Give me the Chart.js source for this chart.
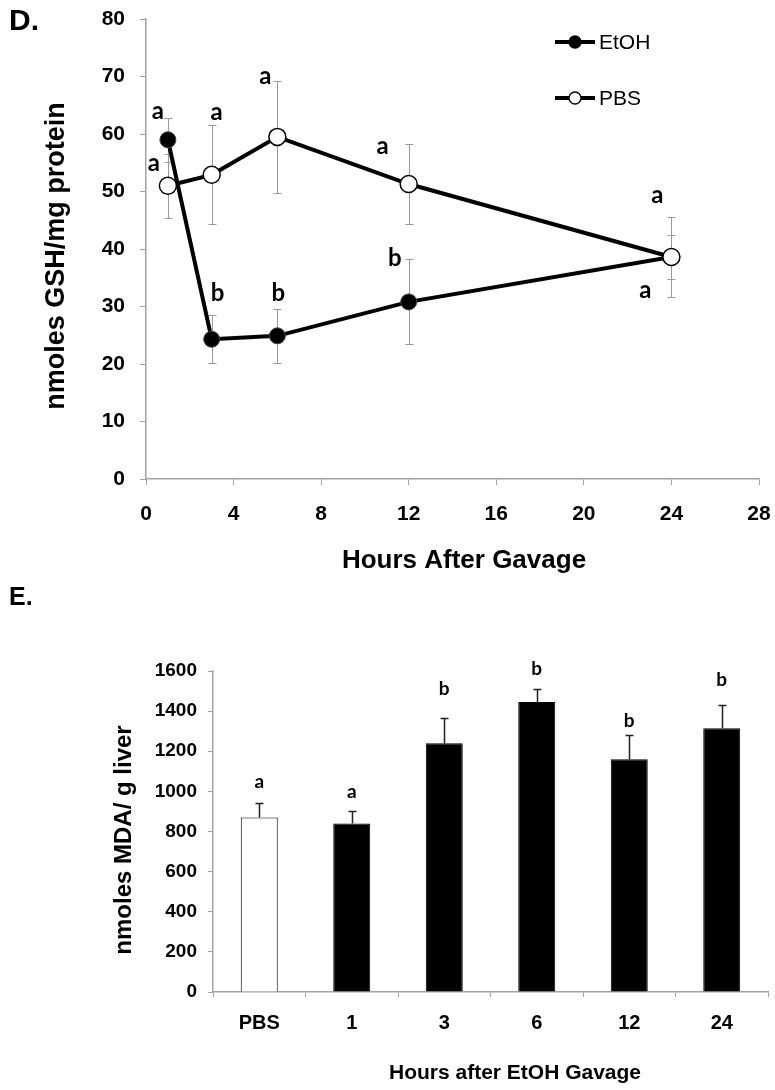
<!DOCTYPE html>
<html><head><meta charset="utf-8">
<script src="https://cdn.jsdelivr.net/npm/chart.js@4/dist/chart.umd.min.js"></script>
<style>
html,body{margin:0;padding:0;background:#fff;}
#wrap{position:relative;width:775px;height:1090px;overflow:hidden;}
#c1wrap{position:absolute;left:0;top:0;width:775px;height:580px;}
#c2wrap{position:absolute;left:0;top:580px;width:775px;height:510px;}
</style></head><body>
<div id="wrap"><div id="c1wrap"><canvas id="c1"></canvas></div><div id="c2wrap"><canvas id="c2"></canvas></div></div>
<script>
// ---------- Panel D data ----------
const hours = [1, 3, 6, 12, 24];
const etohGSH = [59, 24.3, 24.9, 30.8, 38.6];
const etohGSHErr = [3.8, 4.2, 4.7, 7.4, 3.8];
const pbsGSH = [51, 52.9, 59.5, 51.3, 38.6];
const pbsGSHErr = [5.6, 8.6, 9.8, 7.0, 7.0];
const etohGSHLetters = ['a', 'b', 'b', 'b', 'a'];
const pbsGSHLetters = ['a', 'a', 'a', 'a', 'a'];
const gshXTicks = [0, 4, 8, 12, 16, 20, 24, 28];
const gshYTicks = [0, 10, 20, 30, 40, 50, 60, 70, 80];

// ---------- Panel E data ----------
const mdaCategories = ['PBS', '1', '3', '6', '12', '24'];
const mdaValues = [870, 840, 1240, 1445, 1160, 1315];
const mdaErr = [73, 63, 124, 65, 122, 118];
const mdaLetters = ['a', 'a', 'b', 'b', 'b', 'b'];
const mdaYTicks = [0, 200, 400, 600, 800, 1000, 1200, 1400, 1600];

// ---------- layout (pixel offsets for annotation letters) ----------
const etohLetterOffsets = [[-10, -21], [6, -38], [1, -35], [-14, -36], [-26, 41]];
const pbsLetterOffsets = [[-14, -15], [5, -55], [-12, -53], [-26, -30], [-14, -54]];
const mdaLetterGaps = [15, 13, 23, 14, 8, 19];

const AX = '#a3a3a3';
const ARIAL = "'Liberation Sans', Arial, sans-serif";
const LETTERF = "Lato, 'Open Sans', sans-serif";

function noPad(s) { s.paddingTop = 0; s.paddingBottom = 0; s.paddingLeft = 0; s.paddingRight = 0; }

function rotText(ctx, text, x, y, font) {
  ctx.save();
  ctx.translate(x, y);
  ctx.rotate(-Math.PI / 2);
  ctx.font = font;
  ctx.fillStyle = '#000';
  ctx.textAlign = 'center';
  ctx.textBaseline = 'middle';
  ctx.fillText(text, 0, 0);
  ctx.restore();
}

const panelD = {
  id: 'panelD',
  beforeDatasetsDraw(chart) {
    const {ctx, scales: {x, y}} = chart;
    ctx.save();
    ctx.strokeStyle = '#999';
    ctx.lineWidth = 1;
    [[etohGSH, etohGSHErr], [pbsGSH, pbsGSHErr]].forEach(([v, e]) => {
      hours.forEach((h, i) => {
        const px = Math.round(x.getPixelForValue(h)) + 0.5;
        const t = Math.round(y.getPixelForValue(v[i] + e[i])) + 0.5;
        const b = Math.round(y.getPixelForValue(v[i] - e[i])) + 0.5;
        ctx.beginPath();
        ctx.moveTo(px, t); ctx.lineTo(px, b);
        ctx.moveTo(px - 4, t); ctx.lineTo(px + 4, t);
        ctx.moveTo(px - 4, b); ctx.lineTo(px + 4, b);
        ctx.stroke();
      });
    });
    ctx.restore();
  },
  afterDatasetsDraw(chart) {
    const {ctx, scales: {x, y}} = chart;
    ctx.save();
    ctx.font = "bold 24px " + LETTERF;
    ctx.fillStyle = '#000';
    ctx.textAlign = 'center';
    ctx.textBaseline = 'alphabetic';
    [[etohGSH, etohGSHLetters, etohLetterOffsets], [pbsGSH, pbsGSHLetters, pbsLetterOffsets]].forEach(([v, L, O]) => {
      hours.forEach((h, i) => {
        const px = x.getPixelForValue(h), py = y.getPixelForValue(v[i]);
        ctx.fillText(L[i], px + O[i][0], py + O[i][1]);
      });
    });
    ctx.restore();
  },
  afterDraw(chart) {
    const {ctx} = chart;
    ctx.save();
    ctx.fillStyle = '#000';
    ctx.font = "bold 30px " + ARIAL;
    ctx.textAlign = 'left';
    ctx.textBaseline = 'alphabetic';
    ctx.fillText('D.', 9, 30);
    rotText(ctx, 'nmoles GSH/mg protein', 57, 256, "bold 27px " + ARIAL);
    ctx.font = "bold 26px " + ARIAL;
    ctx.textAlign = 'center';
    ctx.textBaseline = 'middle';
    ctx.fillText('Hours After Gavage', 464, 561);
    const items = [['EtOH', '#000', 42], ['PBS', '#fff', 98]];
    items.forEach(([lab, fill, yy]) => {
      ctx.strokeStyle = '#000';
      ctx.lineWidth = 4;
      ctx.beginPath(); ctx.moveTo(555, yy); ctx.lineTo(595, yy); ctx.stroke();
      ctx.beginPath(); ctx.arc(575, yy, 6, 0, Math.PI * 2);
      ctx.fillStyle = fill; ctx.fill();
      ctx.lineWidth = 1.3; ctx.strokeStyle = '#000'; ctx.stroke();
      ctx.fillStyle = '#000';
      ctx.font = "21px " + ARIAL;
      ctx.textAlign = 'left';
      ctx.textBaseline = 'middle';
      ctx.fillText(lab, 599, yy + 1);
    });
    ctx.restore();
  }
};

new Chart(document.getElementById('c1'), {
  type: 'line',
  data: {
    datasets: [
      {
        label: 'PBS',
        data: hours.map((h, i) => ({x: h, y: pbsGSH[i]})),
        borderColor: '#000', borderWidth: 4, tension: 0,
        pointRadius: 8.5, pointBackgroundColor: '#fff', pointBorderColor: '#000', pointBorderWidth: 1.5,
        clip: false
      },
      {
        label: 'EtOH',
        data: hours.map((h, i) => ({x: h, y: etohGSH[i]})),
        borderColor: '#000', borderWidth: 4, tension: 0,
        pointRadius: 8, pointBackgroundColor: '#000', pointBorderColor: '#444', pointBorderWidth: 1,
        clip: false
      }
    ]
  },
  options: {
    responsive: true, maintainAspectRatio: false, animation: false, devicePixelRatio: 1,
    layout: {padding: {left: 0, right: 16, top: 19, bottom: 0}},
    plugins: {legend: {display: false}, tooltip: {enabled: false}},
    scales: {
      x: {
        type: 'linear', min: 0, max: 28,
        afterBuildTicks: s => { s.ticks = gshXTicks.map(v => ({value: v})); },
        afterFit: s => { s.height = 101; noPad(s); },
        grid: {drawOnChartArea: false, tickLength: 6, color: AX, lineWidth: 1},
        border: {color: AX, width: 1.5},
        ticks: {color: '#000', font: {family: ARIAL, size: 21, weight: 'bold'}, padding: 17, maxRotation: 0, callback: v => String(v)}
      },
      y: {
        min: 0, max: 80,
        afterBuildTicks: s => { s.ticks = gshYTicks.map(v => ({value: v})); },
        afterFit: s => { s.width = 146; noPad(s); },
        grid: {drawOnChartArea: false, tickLength: 6, color: AX, lineWidth: 1},
        border: {color: AX, width: 1.5},
        ticks: {color: '#000', font: {family: ARIAL, size: 21, weight: 'bold'}, padding: 15, callback: v => String(v)}
      }
    }
  },
  plugins: [panelD]
});

const panelE = {
  id: 'panelE',
  afterDatasetsDraw(chart) {
    const {ctx, scales: {x, y}} = chart;
    ctx.save();
    ctx.strokeStyle = '#222';
    ctx.lineWidth = 1.5;
    mdaValues.forEach((v, i) => {
      const px = Math.round(x.getPixelForValue(i)) + 0.5;
      const b = y.getPixelForValue(v);
      const t = Math.round(y.getPixelForValue(v + mdaErr[i])) + 0.5;
      ctx.beginPath();
      ctx.moveTo(px, b); ctx.lineTo(px, t);
      ctx.moveTo(px - 4, t); ctx.lineTo(px + 4, t);
      ctx.stroke();
    });
    ctx.font = "bold 19px " + LETTERF;
    ctx.fillStyle = '#000';
    ctx.textAlign = 'center';
    ctx.textBaseline = 'alphabetic';
    mdaValues.forEach((v, i) => {
      const px = x.getPixelForValue(i);
      const t = y.getPixelForValue(v + mdaErr[i]);
      ctx.fillText(mdaLetters[i], px, t - mdaLetterGaps[i]);
    });
    ctx.restore();
  },
  afterDraw(chart) {
    const {ctx} = chart;
    ctx.save();
    ctx.fillStyle = '#000';
    ctx.font = "bold 25px " + ARIAL;
    ctx.textAlign = 'left';
    ctx.textBaseline = 'alphabetic';
    ctx.fillText('E.', 9, 25);
    rotText(ctx, 'nmoles MDA/ g liver', 124, 260, "bold 24px " + ARIAL);
    ctx.font = "bold 21px " + ARIAL;
    ctx.textAlign = 'center';
    ctx.textBaseline = 'middle';
    ctx.fillText('Hours after EtOH Gavage', 515, 493);
    ctx.restore();
  }
};

new Chart(document.getElementById('c2'), {
  type: 'bar',
  data: {
    labels: mdaCategories,
    datasets: [{
      label: 'MDA',
      data: mdaValues,
      backgroundColor: ctx => mdaCategories[ctx.dataIndex] === 'PBS' ? '#fff' : '#000',
      borderColor: '#000',
      borderWidth: 1,
      barPercentage: 0.4,
      categoryPercentage: 1
    }]
  },
  options: {
    responsive: true, maintainAspectRatio: false, animation: false, devicePixelRatio: 1,
    layout: {padding: {left: 0, right: 7, top: 91, bottom: 0}},
    plugins: {legend: {display: false}, tooltip: {enabled: false}},
    scales: {
      x: {
        afterFit: s => { s.height = 98; noPad(s); },
        grid: {drawOnChartArea: false, tickLength: 5, color: AX, lineWidth: 1, offset: true},
        border: {color: AX, width: 1.5},
        ticks: {color: '#000', font: {family: ARIAL, size: 20, weight: 'bold'}, padding: 14, maxRotation: 0}
      },
      y: {
        min: 0, max: 1600,
        afterBuildTicks: s => { s.ticks = mdaYTicks.map(v => ({value: v})); },
        afterFit: s => { s.width = 213; noPad(s); },
        grid: {drawOnChartArea: false, tickLength: 5, color: AX, lineWidth: 1},
        border: {color: AX, width: 1.5},
        ticks: {color: '#000', font: {family: ARIAL, size: 19, weight: 'bold'}, padding: 11, callback: v => String(v)}
      }
    }
  },
  plugins: [panelE]
});
</script>
</body></html>
